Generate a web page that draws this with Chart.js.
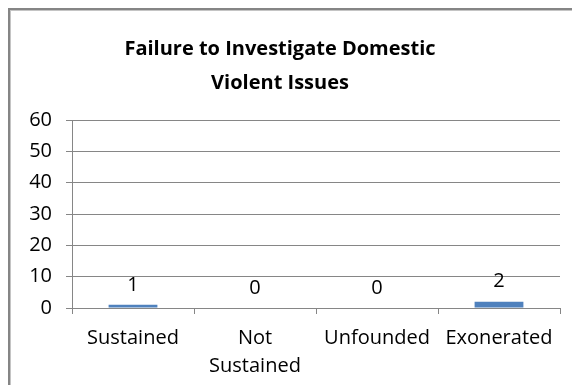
<!DOCTYPE html>
<html>
<head>
<meta charset="utf-8">
<script src="https://cdn.jsdelivr.net/npm/chart.js@4"></script>
<style>
  html, body { margin: 0; padding: 0; background: #ffffff; }
  #wrap { position: relative; width: 572px; height: 385px; overflow: hidden; }
  #frame { position: absolute; left: 8px; top: 8px; width: 700px; height: 500px;
           border-left: 2px solid #858585; border-top: 2px solid #858585;
           box-shadow: inset 1px 1px 0 #c4c4c4; }
  canvas { position: absolute; left: 0; top: 0; }
</style>
</head>
<body>
<div id="wrap">
  <div id="frame"></div>
  <canvas id="c" width="572" height="385"></canvas>
</div>
<script>
const titleLines = ["Failure to Investigate Domestic", "Violent Issues"];
const categories = ["Sustained", ["Not", "Sustained"], "Unfounded", "Exonerated"];
const values = [1, 0, 0, 2];
const yTicks = [0, 10, 20, 30, 40, 50, 60];

const FONT = "'Open Sans', sans-serif";
const gridColor = "#868686";

const valueLabels = {
  id: 'valueLabels',
  afterDatasetsDraw(chart) {
    const ctx = chart.ctx;
    const meta = chart.getDatasetMeta(0);
    ctx.save();
    ctx.font = "20px " + FONT;
    ctx.fillStyle = "#000000";
    ctx.textAlign = "center";
    ctx.textBaseline = "middle";
    meta.data.forEach((bar, i) => {
      ctx.fillText(String(values[i]), bar.x, bar.y - 20);
    });
    ctx.restore();
  }
};

new Chart(document.getElementById('c'), {
  type: 'bar',
  data: {
    labels: categories,
    datasets: [{
      data: values,
      backgroundColor: '#4F81BD',
      borderWidth: 0,
      barPercentage: 0.4,
      categoryPercentage: 1.0
    }]
  },
  options: {
    responsive: false,
    animation: false,
    devicePixelRatio: 1,
    layout: { padding: { left: 0, right: 12, top: 0, bottom: 0 } },
    plugins: {
      legend: { display: false },
      tooltip: { enabled: false },
      title: {
        display: true,
        text: titleLines,
        color: '#000000',
        font: { family: FONT, size: 20, weight: 'bold', lineHeight: 1.7 },
        padding: { top: 32, bottom: 20 }
      }
    },
    scales: {
      x: {
        afterFit(scale) { scale.height = 77; },
        grid: {
          display: true,
          drawOnChartArea: false,
          drawTicks: true,
          tickLength: 6,
          offset: true,
          color: gridColor
        },
        border: { display: true, color: gridColor, width: 1 },
        ticks: {
          color: '#000000',
          font: { family: FONT, size: 20, lineHeight: 1.4 },
          padding: 10,
          maxRotation: 0,
          autoSkip: false
        }
      },
      y: {
        min: 0,
        max: 60,
        afterFit(scale) { scale.width = 72; },
        afterBuildTicks(scale) { scale.ticks = yTicks.map(v => ({ value: v })); },
        grid: {
          color: gridColor,
          drawTicks: true,
          tickLength: 6
        },
        border: { display: true, color: gridColor, width: 1 },
        ticks: {
          stepSize: 10,
          color: '#000000',
          font: { family: FONT, size: 20 },
          padding: 14
        }
      }
    }
  },
  plugins: [valueLabels]
});
</script>
</body>
</html>
